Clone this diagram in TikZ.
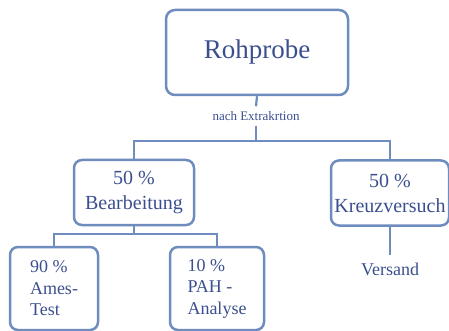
\documentclass[tikz,border=0pt]{standalone}
\usepackage{fontspec}
\setmainfont{Liberation Serif}
\usepackage{xcolor}
\usepackage{tikz}
\usetikzlibrary{positioning}

\definecolor{boxline}{HTML}{6F8CBE}
\definecolor{boxtext}{HTML}{3B4F8E}

\begin{document}
\begin{tikzpicture}[
  x=1pt, y=1pt,
  node distance=28pt and 20pt,
  every node/.style={text=boxtext},
  topbox/.style={rectangle, draw=boxline, line width=2.5pt, rounded corners=9pt, minimum width=182pt, minimum height=85pt, inner sep=0pt, font=\fontsize{27}{32}\selectfont},
  midbox/.style={rectangle, draw=boxline, line width=2.5pt, rounded corners=8pt, minimum height=65pt, inner sep=0pt, align=center, font=\fontsize{20}{25}\selectfont},
  leafbox/.style={rectangle, draw=boxline, line width=2.5pt, rounded corners=8pt, minimum height=83pt, inner sep=0pt, align=left, font=\fontsize{18}{21.5}\selectfont},
  leaftext/.style={inner sep=8pt, font=\fontsize{18}{21.5}\selectfont},
  steplabel/.style={inner sep=5pt, font=\fontsize{13}{15}\selectfont},
  link/.style={draw=boxline, line width=2.2pt},
]
  \useasboundingbox (0,0) rectangle (449,-331);

  \node[topbox] (rohprobe) at (257,-52.5) {Rohprobe};
  \node[steplabel] (extr) at (256,-116) {nach Extrakrtion};
  \coordinate (split) at (256,-141);

  \node[midbox, minimum width=120pt] (bearb) at (134,-192.5) {50 \%\\Bearbeitung};
  \node[midbox, minimum width=118pt] (kreuz) at (390,-193) {50 \%\\Kreuzversuch};

  \node[leafbox, minimum width=88pt] (ames) at (54,-288.5) {90 \%\\Ames-\\Test};
  \node[leafbox, minimum width=94pt] (pah) at (217,-288.5) {10 \%\\PAH -\\Analyse};
  \node[leaftext, below=28pt of kreuz] (versand) {Versand};

  \draw[link] (rohprobe.south) -- (extr.north);
  \draw[link] (extr.south) -- (split);
  \draw[link] (bearb.north) |- (split) -| (kreuz.north);

  \draw[link] (bearb.south) -- ++(0,-8) coordinate (bsplit);
  \draw[link] (ames.north) |- (bsplit) -| (pah.north);

  \draw[link] (kreuz.south) -- (versand.north);
\end{tikzpicture}
\end{document}
